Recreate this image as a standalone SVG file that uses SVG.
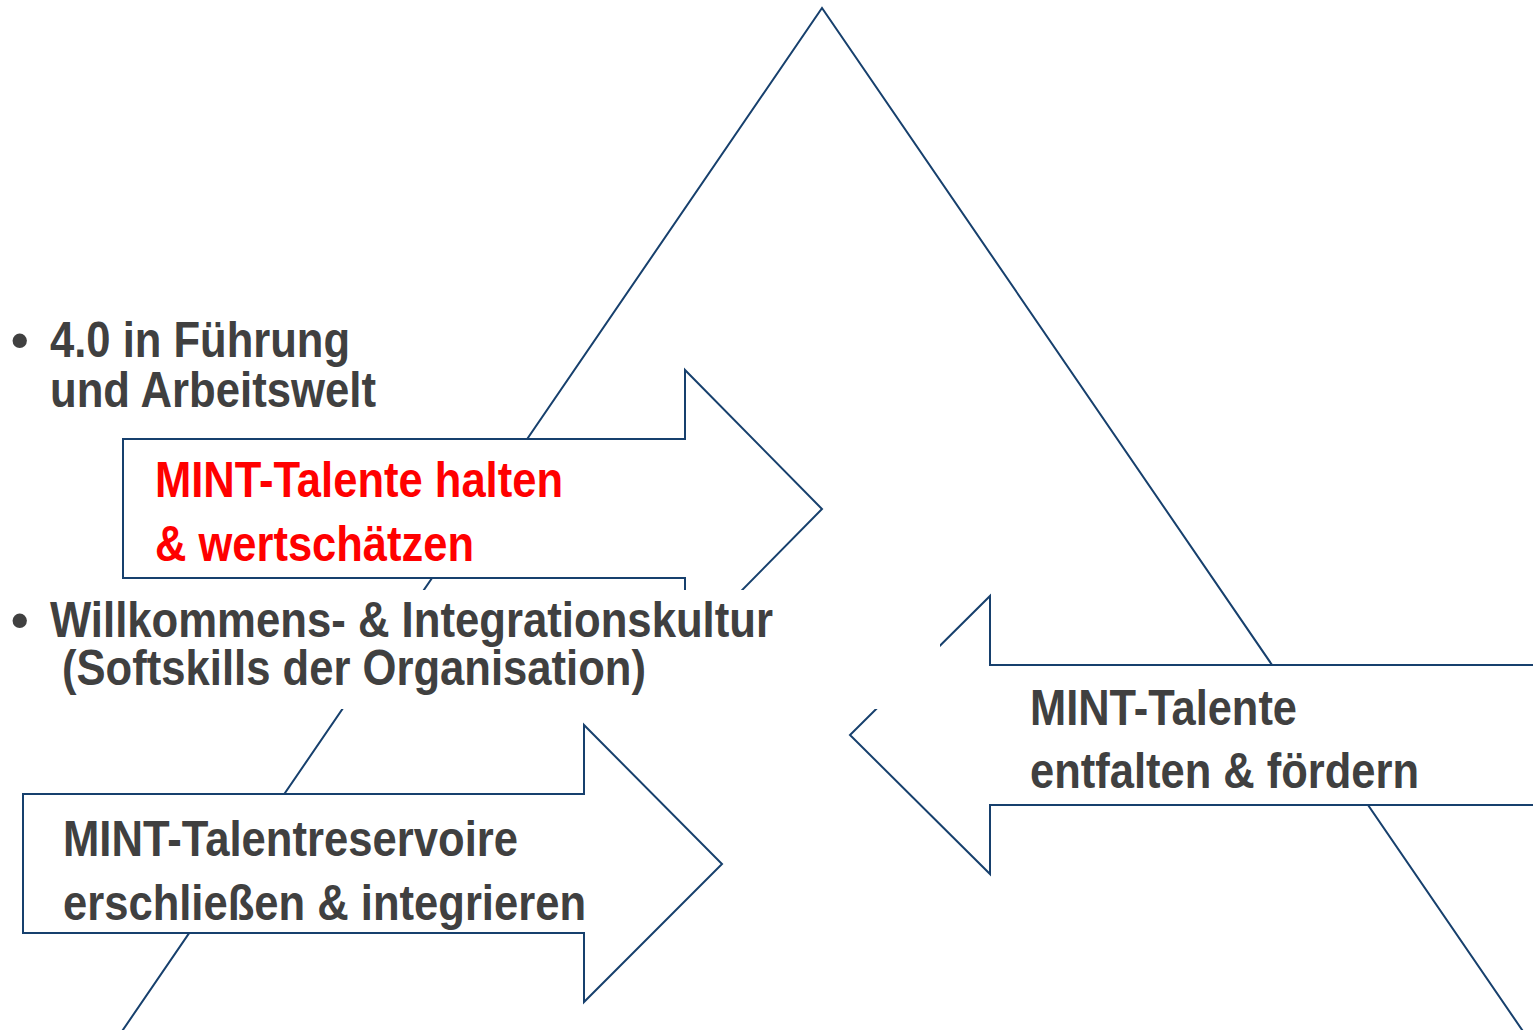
<svg xmlns="http://www.w3.org/2000/svg" width="1533" height="1030" viewBox="0 0 1533 1030">
  <style>
    .line { fill: none; stroke: #17406d; stroke-width: 2; stroke-linejoin: miter; }
    .arrow { fill: #ffffff; stroke: #17406d; stroke-width: 2; }
    .t { font-family: "Liberation Sans Narrow", "Liberation Sans", Arial, sans-serif; font-weight: bold; font-size: 50px; fill: #404040; }
    .red { fill: #ff0000; }
  </style>
  <rect x="0" y="0" width="1533" height="1030" fill="#ffffff"/>
  <g id="connectors">
    <polyline id="triangle" class="line" points="116,1040 822,8 1529,1040"/>
  </g>
  <g id="bullet-fuehrung">
    <text class="t" x="11" y="357">•</text>
    <text class="t" x="50" y="357" textLength="300" lengthAdjust="spacingAndGlyphs">4.0 in Führung</text>
    <text class="t" x="50" y="407" textLength="326" lengthAdjust="spacingAndGlyphs">und Arbeitswelt</text>
  </g>
  <g id="arrow-halten">
    <path class="arrow" d="M123,439 H685 V370 L822,509 L685,648 V578 H123 Z"/>
    <text class="t red" x="155" y="497" textLength="408" lengthAdjust="spacingAndGlyphs">MINT-Talente halten</text>
    <text class="t red" x="155" y="561" textLength="319" lengthAdjust="spacingAndGlyphs">&amp; wertschätzen</text>
  </g>
  <g id="arrow-erschliessen">
    <path class="arrow" d="M23,794 H584 V725 L722,864 L584,1002 V933 H23 Z"/>
    <text class="t" x="63" y="856" textLength="455" lengthAdjust="spacingAndGlyphs">MINT-Talentreservoire</text>
    <text class="t" x="63" y="920" textLength="523" lengthAdjust="spacingAndGlyphs">erschließen &amp; integrieren</text>
  </g>
  <g id="arrow-entfalten">
    <path class="arrow" d="M1545,665 H990 V596 L850,735 L990,874 V805 H1545 Z"/>
    <text class="t" x="1030" y="725" textLength="267" lengthAdjust="spacingAndGlyphs">MINT-Talente</text>
    <text class="t" x="1030" y="788" textLength="389" lengthAdjust="spacingAndGlyphs">entfalten &amp; fördern</text>
  </g>
  <g id="bullet-willkommen">
    <rect x="0" y="590" width="940" height="119" fill="#ffffff"/>
    <text class="t" x="11" y="637">•</text>
    <text class="t" x="50" y="637" textLength="723" lengthAdjust="spacingAndGlyphs">Willkommens- &amp; Integrationskultur</text>
    <text class="t" x="62" y="685" textLength="584" lengthAdjust="spacingAndGlyphs">(Softskills der Organisation)</text>
  </g>
</svg>
